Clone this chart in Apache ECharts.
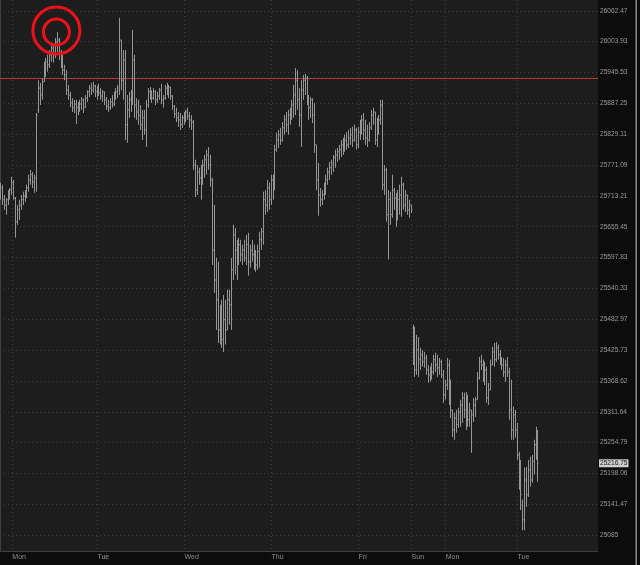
<!DOCTYPE html>
<html><head><meta charset="utf-8">
<script src="https://cdn.jsdelivr.net/npm/echarts@6/dist/echarts.min.js"></script>
<style>html,body{margin:0;padding:0;background:#0c0c0c}#c{width:640px;height:565px}</style>
</head><body><div id="c"></div><script>
// 30-minute OHLC bars, index = bar number
const opens = [
25715,25728,25706,25696,25706,25715,25724,25738,25709,25665,25687,25696,25706,25713,25719,25728,25743,25753,25739,25747,
25875,25916,25903,25928,25954,25966,25960,25979,25992,25979,26003,26007,25984,25969,25950,25941,25912,25903,25888,25879,
25886,25879,25882,25886,25894,25879,25897,25909,25916,25912,25920,25909,25916,25907,25901,25909,25894,25882,25879,25890,
25886,25901,25909,25912,26007,25931,25969,25847,25875,25894,25903,25969,25884,25871,25865,25847,25860,25837,25884,25909,
25903,25897,25909,25894,25901,25912,25894,25897,25916,25912,25918,25901,25882,25867,25860,25856,25847,25860,25865,25871,
25863,25856,25852,25771,25724,25758,25747,25743,25771,25781,25790,25771,25743,25612,25556,25519,25463,25497,25445,25482,
25463,25519,25510,25575,25640,25612,25603,25622,25603,25612,25597,25622,25590,25612,25603,25594,25584,25609,25631,25646,
25706,25696,25728,25706,25743,25734,25800,25818,25828,25818,25841,25856,25847,25865,25871,25884,25903,25931,25894,25865,
25912,25931,25935,25894,25879,25894,25865,25809,25743,25715,25706,25715,25728,25743,25758,25766,25775,25785,25790,25796,
25800,25809,25803,25818,25809,25822,25828,25818,25837,25809,25833,25847,25856,25837,25822,25818,25841,25865,25871,25818,
25847,25856,25884,25734,25762,25678,25706,25678,25724,25709,25668,25706,25715,25734,25696,25715,25687,25696,25467,25445,
25389,25426,25408,25417,25404,25411,25389,25380,25389,25385,25408,25398,25393,25404,25380,25343,25361,25398,25334,25315,
25278,25300,25288,25311,25324,25337,25315,25334,25297,25315,25306,25324,25334,25374,25404,25398,25380,25389,25337,25352,
25398,25422,25408,25430,25417,25408,25398,25385,25398,25385,25315,25278,25306,25278,25232,25186,25140,25113,25186,25159,
25205,25186,25220,25251,25260
];
const highs = [
25738,25734,25715,25709,25724,25728,25749,25743,25711,25696,25706,25715,25721,25724,25734,25753,25762,25758,25753,25869,
25931,25926,25935,25966,25973,25979,25988,26002,25998,26011,26022,26011,25988,25979,25960,25950,25922,25909,25897,25894,
25894,25890,25894,25899,25897,25903,25912,25922,25926,25928,25922,25920,25924,25916,25912,25909,25899,25894,25897,25903,
25909,25916,25922,26049,26007,25988,25988,25903,25909,25912,26026,25979,25897,25894,25884,25875,25875,25894,25916,25918,
25912,25916,25912,25909,25916,25924,25903,25922,25926,25922,25918,25903,25884,25879,25871,25869,25865,25871,25875,25879,
25871,25865,25856,25781,25771,25766,25771,25781,25790,25800,25805,25790,25747,25696,25597,25590,25510,25519,25528,25519,
25538,25538,25597,25659,25653,25631,25635,25631,25622,25631,25640,25644,25622,25631,25622,25612,25622,25646,25653,25721,
25724,25743,25738,25753,25753,25809,25832,25837,25841,25852,25865,25871,25875,25879,25894,25922,25954,25950,25916,25931,
25941,25943,25939,25903,25899,25897,25888,25809,25775,25728,25724,25738,25753,25766,25777,25781,25790,25800,25803,25809,
25818,25822,25828,25833,25837,25841,25843,25847,25841,25843,25856,25865,25869,25856,25847,25852,25875,25879,25871,25860,
25865,25894,25894,25771,25766,25724,25721,25753,25728,25719,25724,25734,25749,25738,25724,25715,25706,25696,25473,25469,
25454,25450,25430,25426,25422,25417,25398,25395,25402,25417,25421,25417,25411,25408,25389,25371,25411,25408,25371,25315,
25310,25315,25319,25334,25348,25347,25348,25343,25328,25315,25337,25339,25385,25413,25417,25408,25404,25395,25365,25408,
25432,25439,25441,25436,25426,25413,25411,25408,25413,25393,25371,25321,25315,25291,25238,25223,25150,25209,25210,25223,
25229,25232,25260,25284,25278
];
const lows = [
25706,25696,25687,25678,25696,25706,25715,25706,25635,25659,25668,25687,25696,25702,25709,25721,25734,25728,25719,25721,
25869,25884,25894,25928,25937,25947,25954,25966,25964,25973,25984,25969,25954,25941,25931,25903,25894,25880,25871,25869,
25848,25865,25871,25875,25869,25879,25890,25899,25903,25907,25899,25894,25901,25894,25890,25884,25875,25871,25875,25879,
25882,25894,25897,25903,25912,25894,25818,25813,25860,25871,25884,25860,25856,25847,25837,25818,25828,25805,25879,25894,
25888,25894,25884,25888,25894,25886,25879,25894,25903,25897,25894,25875,25860,25852,25843,25837,25841,25847,25852,25856,
25841,25837,25762,25711,25715,25734,25706,25734,25747,25753,25762,25730,25584,25532,25463,25439,25436,25430,25422,25436,
25463,25473,25463,25556,25566,25556,25584,25590,25584,25590,25584,25564,25579,25590,25575,25571,25575,25579,25612,25622,
25678,25683,25687,25696,25706,25724,25796,25803,25809,25815,25828,25833,25828,25847,25856,25860,25865,25875,25843,25805,
25894,25903,25884,25856,25860,25850,25794,25724,25676,25693,25696,25706,25715,25734,25743,25753,25758,25766,25777,25781,
25786,25790,25796,25800,25803,25809,25805,25815,25800,25803,25818,25828,25818,25809,25805,25815,25837,25847,25809,25805,
25828,25847,25724,25715,25665,25594,25659,25672,25687,25655,25668,25678,25674,25687,25683,25678,25672,25681,25398,25376,
25380,25376,25389,25395,25393,25380,25365,25367,25371,25380,25385,25376,25380,25374,25328,25334,25352,25324,25300,25265,
25260,25273,25282,25284,25291,25300,25278,25284,25284,25236,25293,25302,25334,25371,25389,25367,25361,25328,25324,25352,
25398,25395,25404,25408,25398,25389,25376,25367,25376,25297,25260,25260,25264,25223,25168,25131,25094,25094,25137,25155,
25174,25181,25196,25223,25183
];
const closes = [
25728,25706,25696,25706,25715,25724,25738,25709,25665,25687,25696,25706,25713,25719,25728,25743,25753,25739,25747,25865,
25916,25903,25928,25954,25966,25960,25979,25992,25979,26003,26007,25984,25969,25950,25941,25912,25903,25888,25879,25886,
25879,25882,25886,25894,25879,25897,25909,25916,25912,25920,25909,25916,25907,25901,25909,25894,25882,25879,25890,25886,
25901,25909,25916,26007,25931,25969,25847,25875,25894,25903,25969,25884,25871,25865,25847,25860,25837,25884,25909,25903,
25897,25909,25894,25901,25912,25894,25897,25916,25912,25918,25901,25882,25867,25860,25856,25847,25860,25865,25871,25863,
25856,25852,25771,25724,25758,25747,25743,25771,25781,25790,25771,25743,25612,25556,25519,25463,25497,25445,25482,25463,
25519,25510,25575,25640,25612,25603,25622,25603,25612,25597,25622,25590,25612,25603,25594,25584,25609,25631,25646,25706,
25696,25728,25706,25743,25734,25800,25818,25828,25818,25841,25856,25847,25865,25871,25884,25903,25931,25894,25865,25912,
25931,25935,25894,25879,25894,25865,25809,25743,25715,25706,25715,25728,25743,25758,25766,25775,25785,25790,25796,25800,
25809,25803,25818,25809,25822,25828,25818,25837,25809,25833,25847,25856,25837,25822,25818,25841,25865,25871,25818,25847,
25856,25884,25734,25762,25678,25706,25678,25724,25709,25668,25706,25715,25734,25696,25715,25687,25696,25687,25445,25389,
25426,25408,25417,25404,25411,25389,25380,25389,25385,25408,25398,25393,25404,25380,25343,25361,25398,25334,25315,25278,
25300,25288,25311,25324,25337,25315,25334,25297,25315,25306,25324,25334,25374,25404,25398,25380,25389,25337,25352,25398,
25422,25408,25430,25417,25408,25398,25385,25398,25385,25315,25278,25306,25278,25232,25186,25159,25113,25186,25159,25205,
25186,25220,25251,25260,25216.75
];
const yTicks = [25085,25141.47,25198.06,25254.79,25311.64,25368.62,25425.73,25482.97,25540.33,25597.83,25655.45,25713.21,25771.09,25829.11,25887.25,25945.53,26003.93,26062.47];
const yTickLabels = ['25085','25141.47','25198.06','25254.79','25311.64','25368.62','25425.73','25482.97','25540.33','25597.83','25655.45','25713.21','25771.09','25829.11','25887.25','25945.53','26003.93','26062.47'];
const dayTicks = [6.5, 51.5, 97.5, 143.5, 189.5, 217.5, 235.5, 273.5];
const dayLabels = ['Mon','Tue','Wed','Thu','Fri','Sun','Mon','Tue'];
const resistanceLevel = 25936;
const lastPrice = 25216.75;
const highlightPoint = [29.8, 26025];
const xMin = 0, xMax = 316;

const bars = opens.map((o, i) => [i, o, closes[i], lows[i], highs[i]]);
const chart = echarts.init(document.getElementById('c'));
const dotted = {color: '#3d3d3d', width: 1, type: [1, 3]};
const ring = {color: 'rgba(0,0,0,0)', borderColor: '#ee1118', borderWidth: 3, opacity: 1};
chart.setOption({
  backgroundColor: '#0c0c0c',
  animation: false,
  grid: {left: 0, right: 42, top: 0, bottom: 14, show: true, backgroundColor: '#1d1d1d', borderWidth: 0},
  graphic: [{type: 'rect', right: 3, top: 0, shape: {width: 1.5, height: 565}, style: {fill: '#8a8a8a'}, silent: true}],
  xAxis: {
    type: 'value', min: xMin, max: xMax,
    axisLine: {show: true, onZero: false, lineStyle: {color: '#3f3f3f', width: 1}},
    axisTick: {show: false, customValues: dayTicks},
    axisLabel: {
      customValues: dayTicks, align: 'left', color: '#8e8e8e', fontSize: 7, margin: 3,
      fontFamily: 'Liberation Sans',
      formatter: v => { const i = dayTicks.findIndex(d => Math.abs(d - v) < 0.01); return i >= 0 ? dayLabels[i] : ''; }
    },
    splitLine: {show: true, lineStyle: dotted}
  },
  yAxis: {
    type: 'log', logBase: 10, position: 'right', min: 25056, max: 26083,
    axisLine: {show: true, lineStyle: {color: '#3f3f3f', width: 1}},
    axisTick: {show: false, customValues: yTicks},
    axisLabel: {
      customValues: yTicks, color: '#9a9a9a', fontSize: 6.6, margin: 2, fontFamily: 'Liberation Sans',
      formatter: v => { let b = 0; yTicks.forEach((t, i) => { if (Math.abs(t - v) < Math.abs(yTicks[b] - v)) b = i; }); return yTickLabels[b]; }
    },
    splitLine: {show: true, lineStyle: dotted}
  },
  series: [
    {
      type: 'custom', silent: true, z: 3, clip: true,
      encode: {x: 0, y: 1},
      data: [[xMin, resistanceLevel, xMax]],
      renderItem: function (params, api) {
        const a = api.coord([api.value(0), api.value(1)]);
        const b = api.coord([api.value(2), api.value(1)]);
        const y = Math.round(a[1]) + 0.5;
        return {type: 'line', shape: {x1: a[0], y1: y, x2: b[0], y2: y}, style: {stroke: '#b8383c', lineWidth: 1}};
      }
    },
    {
      type: 'custom', clip: true, z: 4,
      encode: {x: 0, y: [1, 2, 3, 4]},
      data: bars,
      renderItem: function (params, api) {
        const x = api.value(0);
        const pO = api.coord([x, api.value(1)]);
        const pC = api.coord([x, api.value(2)]);
        const pL = api.coord([x, api.value(3)]);
        const pH = api.coord([x, api.value(4)]);
        const cx = Math.round(pO[0]) + 0.5;
        const st = {stroke: '#959595', lineWidth: 1};
        return {type: 'group', children: [
          {type: 'line', shape: {x1: cx, y1: pH[1], x2: cx, y2: pL[1]}, style: st},
          {type: 'line', shape: {x1: cx - 1, y1: pO[1], x2: cx, y2: pO[1]}, style: st},
          {type: 'line', shape: {x1: cx, y1: pC[1], x2: cx + 1, y2: pC[1]}, style: st}
        ]};
      },
      markLine: {
        silent: true, symbol: 'none', animation: false,
        data: [
          {yAxis: lastPrice, lineStyle: {color: 'rgba(0,0,0,0)', width: 1}, label: {
            show: true, position: 'end', distance: 1, formatter: lastPrice.toFixed(2),
            backgroundColor: '#cfcfcf', color: '#1a1a1a', fontSize: 6.6, padding: [1, 1, 0, 1],
            fontFamily: 'Liberation Sans'
          }}
        ]
      }
    },
    {
      type: 'scatter', silent: true, z: 10,
      data: [highlightPoint], symbol: 'circle', symbolSize: 47,
      itemStyle: ring
    },
    {
      type: 'scatter', silent: true, z: 10,
      data: [[highlightPoint[0], highlightPoint[1] - 3]], symbol: 'circle', symbolSize: 26,
      itemStyle: ring
    }
  ]
});
</script></body></html>
